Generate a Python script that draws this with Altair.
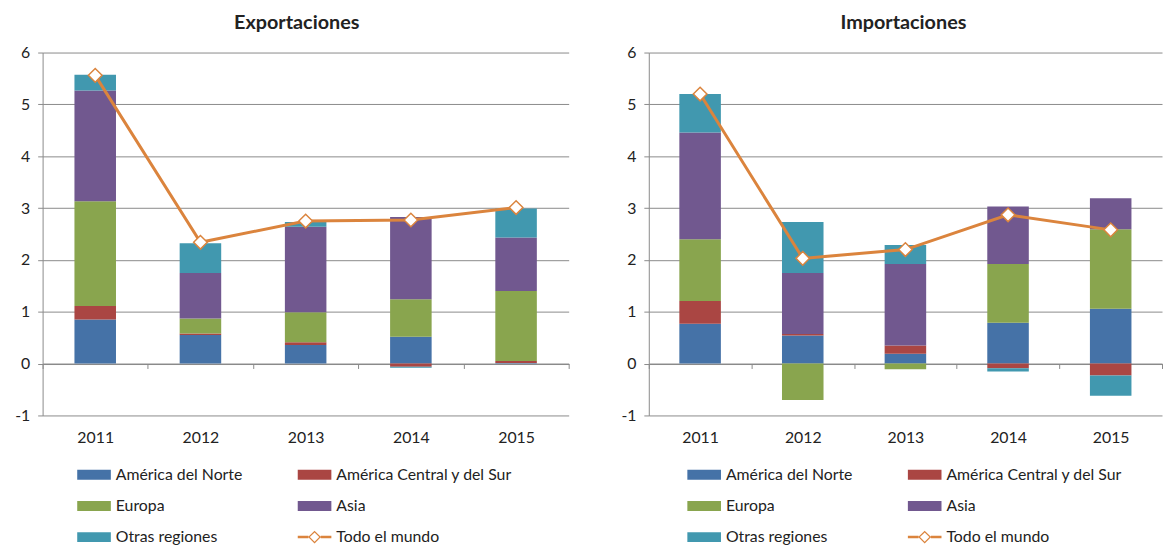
import altair as alt
import pandas as pd

years = ["2011", "2012", "2013", "2014", "2015"]
series = ["América del Norte", "América Central y del Sur", "Europa", "Asia", "Otras regiones"]
total_name = "Todo el mundo"

exp_norte = [0.85, 0.55, 0.36, 0.52, 0.01]
exp_central = [0.26, 0.03, 0.05, -0.06, 0.04]
exp_europa = [2.02, 0.29, 0.58, 0.72, 1.35]
exp_asia = [2.14, 0.88, 1.65, 1.59, 1.03]
exp_otras = [0.30, 0.57, 0.09, -0.02, 0.56]
exp_total = [5.56, 2.34, 2.75, 2.77, 3.01]

imp_norte = [0.77, 0.54, 0.19, 0.79, 1.06]
imp_central = [0.44, 0.03, 0.16, -0.09, -0.23]
imp_europa = [1.19, -0.70, -0.11, 1.13, 1.53]
imp_asia = [2.06, 1.18, 1.57, 1.11, 0.60]
imp_otras = [0.74, 0.98, 0.37, -0.06, -0.39]
imp_total = [5.20, 2.03, 2.20, 2.87, 2.58]

colors = ["#4572A7", "#AA4643", "#89A54E", "#71588F", "#4198AF", "#DB843D"]
orange = colors[-1]
FONT = "Lato"
GRID = "#8a8a8a"
TEXT = "#222222"

all_names = series + [total_name]
# legend is laid out column by column (3 rows x 2 columns): reorder so that
# it reads row by row like the original
legend_order = [0, 2, 4, 1, 3, 5]
domain_all = [all_names[i] for i in legend_order]
range_all = [colors[i] for i in legend_order]

# legend swatch shapes (unit path, scaled by symbolSize)
rect_path = "M-3.4,-1H3.4V1H-3.4Z"
line_path = ("M-3.4,-0.25H-1.25V0.25H-3.4Z"
             "M1.25,-0.25H3.4V0.25H1.25Z"
             "M0,-1.3L1.3,0L0,1.3L-1.3,0Z"
             "M0,-0.95L-0.95,0L0,0.95L0.95,0Z")

symbol_expr = f"datum.value == '{total_name}' ? '{line_path}' : '{rect_path}'"


def panel(title, vals, total, width, legend_x, title_dx):
    rows = []
    for i, s in enumerate(series):
        for j, y in enumerate(years):
            rows.append({"anio": y, "serie": s, "orden": i, "valor": vals[i][j]})
    df = pd.DataFrame(rows)
    tdf = pd.DataFrame({"anio": years, "serie": [total_name] * len(years), "valor": total})

    color_scale = alt.Scale(domain=domain_all, range=range_all)
    legend = alt.Legend(
        title=None, orient="none", legendX=legend_x, legendY=419, columns=2,
        columnPadding=55, rowPadding=15.5, padding=0,
        symbolType={"expr": symbol_expr}, symbolSize=100, labelOffset=14,
        symbolStrokeWidth=0, symbolOpacity=1,
        labelFont=FONT, labelFontSize=16, labelColor=TEXT, labelLimit=0,
    )
    x = alt.X(
        "anio:N",
        scale=alt.Scale(paddingInner=0, paddingOuter=0),
        axis=alt.Axis(
            title=None, labelAngle=0, offset=-52.5, tickBand="extent", tickSize=5,
            labelPadding=61.5, domainColor=GRID, tickColor=GRID, grid=False,
            labelFont=FONT, labelFontSize=16, labelColor=TEXT,
        ),
    )
    y = alt.Y(
        "valor:Q",
        stack="zero",
        scale=alt.Scale(domain=[-1, 6], nice=False, zero=False),
        axis=alt.Axis(
            title=None, values=[-1, 0, 1, 2, 3, 4, 5, 6], labelExpr="'' + datum.value",
            grid=True, gridColor=GRID, domainColor=GRID, tickColor=GRID, tickSize=5,
            labelPadding=8, labelFont=FONT, labelFontSize=16, labelColor=TEXT,
        ),
    )
    bars = alt.Chart(df).mark_bar(size=42).encode(
        x=x, y=y,
        color=alt.Color("serie:N", scale=color_scale, legend=legend),
        order=alt.Order("orden:Q"),
    )
    line = alt.Chart(tdf).mark_line(strokeWidth=3).encode(
        x=x, y=alt.Y("valor:Q"),
        color=alt.Color("serie:N", scale=color_scale, legend=legend),
    )
    pts = alt.Chart(tdf).mark_point(
        shape="diamond", filled=True, fill="white", stroke=orange,
        strokeWidth=1.5, size=190, opacity=1,
    ).encode(x=x, y=alt.Y("valor:Q"))
    return alt.layer(bars, line, pts).properties(
        width=width, height=367,
        title=alt.TitleParams(
            title, font=FONT, fontSize=20, fontWeight="bold", color=TEXT,
            anchor="middle", frame="group", offset=12, dx=title_dx,
        ),
    )


left = panel("Exportaciones",
             [exp_norte, exp_central, exp_europa, exp_asia, exp_otras],
             exp_total, 532, 44, -9)
right = panel("Importaciones",
              [imp_norte, imp_central, imp_europa, imp_asia, imp_otras],
              imp_total, 519, 48, -2)

chart = (
    alt.hconcat(left, right, spacing=51)
    .resolve_scale(color="independent")
    .properties(padding={"top": 2, "left": 6, "right": 0, "bottom": 0})
    .configure_view(stroke=None)
)

chart.save("out.html", embed_options={"renderer": "svg", "actions": False})
